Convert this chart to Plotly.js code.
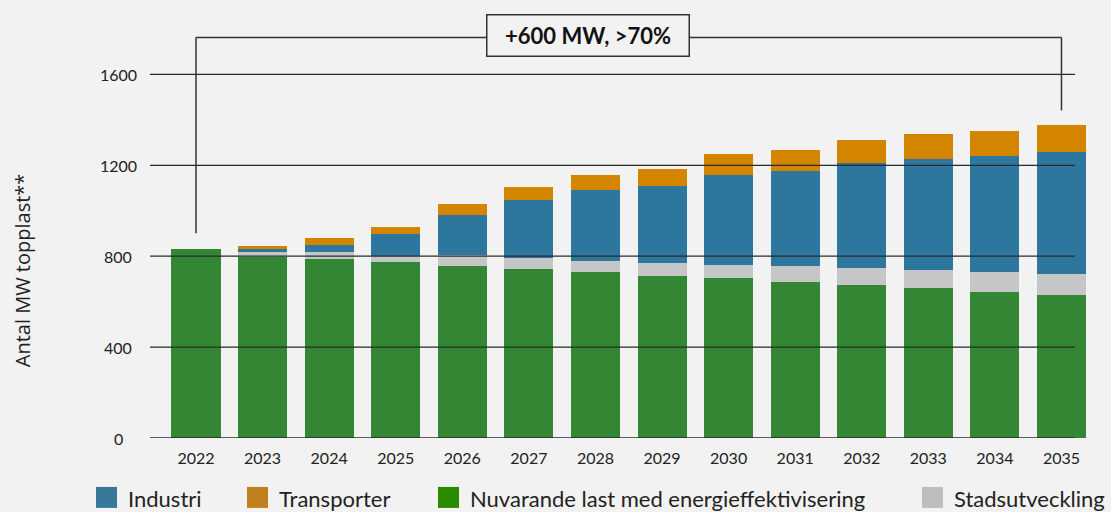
<!DOCTYPE html>
<html>
<head>
<meta charset="utf-8">
<script src="https://cdn.plot.ly/plotly-3.0.1.min.js"></script>
<style>html,body{margin:0;padding:0;background:#f2f2f2;}#chart{width:1111px;height:512px;}</style>
</head>
<body>
<div id="chart"></div>
<script>
// ---- data ----
const years = ["2022","2023","2024","2025","2026","2027","2028","2029","2030","2031","2032","2033","2034","2035"];
const nuvarande = [830, 798, 787, 774, 756, 743, 730, 712, 703, 686, 673, 659, 642, 629];
const stadsutveckling = [0, 20, 31, 26, 48, 48, 48, 57, 57, 70, 74, 79, 88, 92];
const industri = [0, 13, 30, 97, 176, 255, 312, 339, 396, 418, 462, 488, 510, 536];
const transporter = [0, 13, 31, 30, 49, 57, 66, 74, 92, 92, 101, 110, 109, 119];
const yTicks = [0, 400, 800, 1200, 1600];
const yTickLabels = ["0", "400", "800", "1200", "1600"];
const seriesNames = ["Industri", "Transporter", "Nuvarande last med energieffektivisering", "Stadsutveckling"];
const bracketLabel = "+600 MW, >70%";
const yTitle = "Antal MW topplast**";

// ---- layout helpers (pixel -> paper) ----
const L = 150, R = 1100, T = 28.5, B = 438;
const px = x => (x - L) / (R - L);
const py = y => (B - y) / (B - T);
const FONT = "Lato, 'Open Sans', sans-serif";

const colors = {green:"#338734", gray:"#c5c6c7", blue:"#2d779f", orange:"#d38500"};
const legendColors = ["#3a789b", "#c08020", "#2a8a00", "#bebebe"];

const traces = [
  {type:"bar", x:years, y:nuvarande, name:seriesNames[2], marker:{color:colors.green}},
  {type:"bar", x:years, y:stadsutveckling, name:seriesNames[3], marker:{color:colors.gray}},
  {type:"bar", x:years, y:industri, name:seriesNames[0], marker:{color:colors.blue}},
  {type:"bar", x:years, y:transporter, name:seriesNames[1], marker:{color:colors.orange}}
];

const shapes = [];
const annotations = [];
// gridlines above bars + centred tick labels
yTicks.forEach((v, i) => {
  shapes.push({type:"line", xref:"paper", yref:"y", x0:0, x1:px(1075), y0:v, y1:v,
    line:{color:"#2a2a2a", width:1.3}, layer:"above"});
  annotations.push({xref:"paper", yref:"y", x:px(118), y:v, xanchor:"center", yanchor:"middle",
    text:yTickLabels[i], showarrow:false, font:{family:FONT, size:16, color:"#222"}});
});
// bracket
const lineStyle = {color:"#333333", width:1.5};
const first = 0, last = years.length - 1;
shapes.push({type:"line", xref:"x", yref:"paper", x0:first, x1:last, y0:py(37), y1:py(37), line:lineStyle, layer:"above"});
shapes.push({type:"line", xref:"x", yref:"paper", x0:first, x1:first, y0:py(37), y1:py(233), line:lineStyle, layer:"above"});
shapes.push({type:"line", xref:"x", yref:"paper", x0:last, x1:last, y0:py(37), y1:py(110), line:lineStyle, layer:"above"});
annotations.push({xref:"paper", yref:"paper", x:px(587.5), y:py(35), xanchor:"center", yanchor:"middle",
  text:"<b>"+bracketLabel+"</b>", showarrow:false, font:{family:FONT, size:22, color:"#111"},
  bgcolor:"#f2f2f2", bordercolor:"#333333", borderwidth:1.5, borderpad:0, width:201, height:40});
// y title
annotations.push({xref:"paper", yref:"paper", x:px(22), y:py(270), xanchor:"center", yanchor:"middle",
  text:yTitle, textangle:-90, showarrow:false, font:{family:"'Open Sans', sans-serif", size:20, color:"#222"}});
// manual legend
const legX = [96, 247, 438, 922];
seriesNames.forEach((n, i) => {
  shapes.push({type:"rect", xref:"paper", yref:"paper", x0:px(legX[i]), x1:px(legX[i]+21), y0:py(487), y1:py(508),
    fillcolor:legendColors[i], line:{width:0}});
  annotations.push({xref:"paper", yref:"paper", x:px(legX[i]+30), y:py(499), xanchor:"left", yanchor:"middle",
    text:n, showarrow:false, font:{family:FONT, size:22, color:"#222"}});
});

const layout = {
  width:1111, height:512,
  paper_bgcolor:"#f2f2f2", plot_bgcolor:"#f2f2f2",
  margin:{l:L, r:1111-R, t:T, b:512-B, pad:0},
  barmode:"stack", bargap:0.263, showlegend:false,
  font:{family:FONT, color:"#222"},
  xaxis:{type:"category", range:[-0.691, 13 + 38.5/66.54], showgrid:false, zeroline:false, showline:false,
    ticks:"", tickfont:{family:FONT, size:16, color:"#222"}, ticklabelstandoff:9},
  yaxis:{range:[0,1800], showgrid:false, zeroline:false, showline:false,
    ticks:"", showticklabels:false},
  shapes:shapes, annotations:annotations
};
Plotly.newPlot("chart", traces, layout, {staticPlot:true, displayModeBar:false});
</script>
</body>
</html>
